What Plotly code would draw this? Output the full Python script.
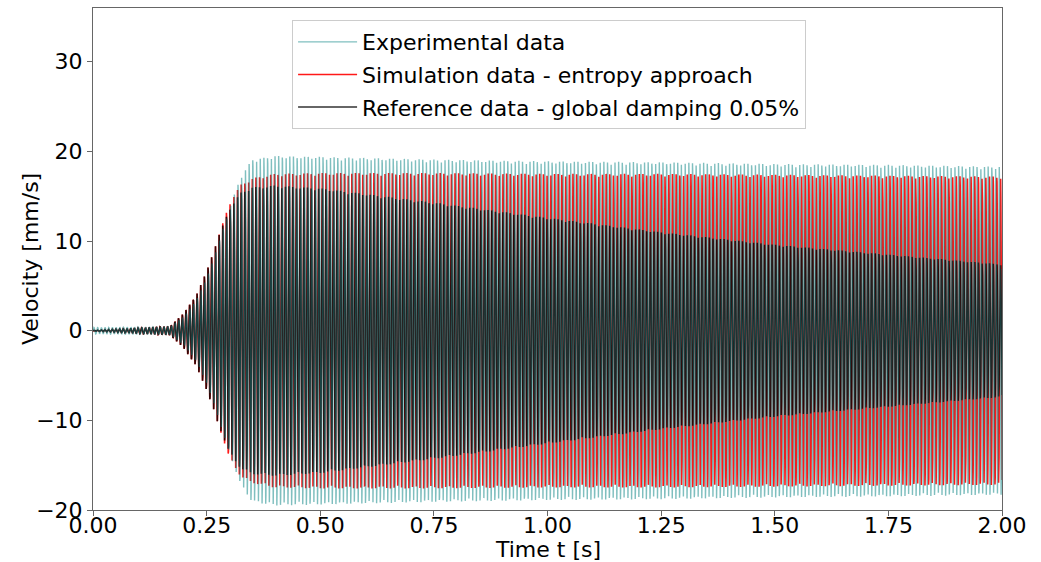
import numpy as np
import plotly.graph_objects as go

# Envelope knots (time in s, peak velocity in mm/s) for each record
env_time = [0.00, 0.17, 0.20, 0.225, 0.25, 0.275, 0.30, 0.325, 0.35, 0.40, 0.50,
            0.75, 1.00, 1.25, 1.50, 1.75, 2.00]
exp_env = [0.35, 0.45, 1.6, 3.2, 5.8, 9.5, 13.6, 17.2, 19.1, 19.5, 19.4,
           19.1, 18.9, 18.8, 18.6, 18.5, 18.3]
sim_env = [0.05, 0.50, 2.0, 3.8, 6.6, 10.4, 14.2, 16.3, 17.0, 17.5, 17.6,
           17.6, 17.5, 17.5, 17.4, 17.3, 17.2]
ref_env = [0.05, 0.50, 2.0, 3.8, 6.6, 10.4, 13.6, 15.4, 16.0, 16.2, 15.9,
           14.3, 12.6, 11.0, 9.6, 8.5, 7.4]

# Dominant oscillation frequency of each record (Hz); both simulations share one
exp_freq = 123.0
sim_freq = 123.3
ref_freq = 123.3

fs = 2000.0
t = np.arange(0, 2.0 + 1 / fs, 1 / fs)


def signal(env, freq, phase):
    return np.interp(t, env_time, env) * np.sin(2 * np.pi * freq * t + phase)


v_exp = signal(exp_env, exp_freq, 0.0)
v_sim = signal(sim_env, sim_freq, 0.3)
v_ref = signal(ref_env, ref_freq, 0.3)

fig = go.Figure()
# simulation first, reference over it, experimental record drawn last
fig.add_trace(go.Scatter(x=t, y=v_sim, mode="lines", name="Simulation data - entropy approach",
                         legendgroup="sim", legendrank=2,
                         line=dict(color="rgba(255,0,0,0.9)", width=1.6)))
fig.add_trace(go.Scatter(x=t, y=v_ref, mode="lines", name="Reference data - global damping 0.05%",
                         legendgroup="ref", legendrank=3,
                         line=dict(color="rgba(0,0,0,0.8)", width=1.6)))
fig.add_trace(go.Scatter(x=t, y=v_exp, mode="lines", name="Experimental data",
                         legendgroup="exp", legendrank=1,
                         line=dict(color="rgba(0,128,128,0.5)", width=1.4)))

font = "DejaVu Sans, Liberation Sans, sans-serif"
axis_common = dict(
    showgrid=False, zeroline=False, showline=True, mirror=True,
    linecolor="#666666", linewidth=1, ticks="outside", ticklen=5,
    tickcolor="#666666", tickfont=dict(family=font, size=22, color="black"),
    automargin=False,
)

fig.update_layout(
    width=1041, height=562,
    margin=dict(l=93, r=39, t=8, b=52),
    paper_bgcolor="white", plot_bgcolor="white",
    font=dict(family=font, size=22, color="black"),
    showlegend=True,
    legend=dict(x=0.219, y=0.976, xanchor="left", yanchor="top",
                traceorder="grouped", tracegroupgap=1,
                bgcolor="rgba(255,255,255,0.85)", bordercolor="#cccccc", borderwidth=1,
                font=dict(family=font, size=22, color="black"), itemwidth=59),
    xaxis=dict(range=[0, 2.0], tickvals=[0, 0.25, 0.5, 0.75, 1.0, 1.25, 1.5, 1.75, 2.0],
               ticktext=["0.00", "0.25", "0.50", "0.75", "1.00", "1.25", "1.50", "1.75", "2.00"],
               ticklabelstandoff=-9, **axis_common),
    yaxis=dict(range=[-20, 36], tickvals=[-20, -10, 0, 10, 20, 30],
               ticktext=["\u221220", "\u221210", "0", "10", "20", "30"],
               **axis_common),
    annotations=[
        dict(text="Time t [s]", xref="paper", yref="paper", x=0.5, y=0,
             xanchor="center", yanchor="middle", yshift=-39, showarrow=False,
             font=dict(family=font, size=22, color="black")),
        dict(text="Velocity [mm/s]", xref="paper", yref="paper", x=0, y=0.5,
             xanchor="center", yanchor="middle", xshift=-63, textangle=-90,
             showarrow=False, font=dict(family=font, size=22, color="black")),
    ],
)

fig.write_html("out.html")
